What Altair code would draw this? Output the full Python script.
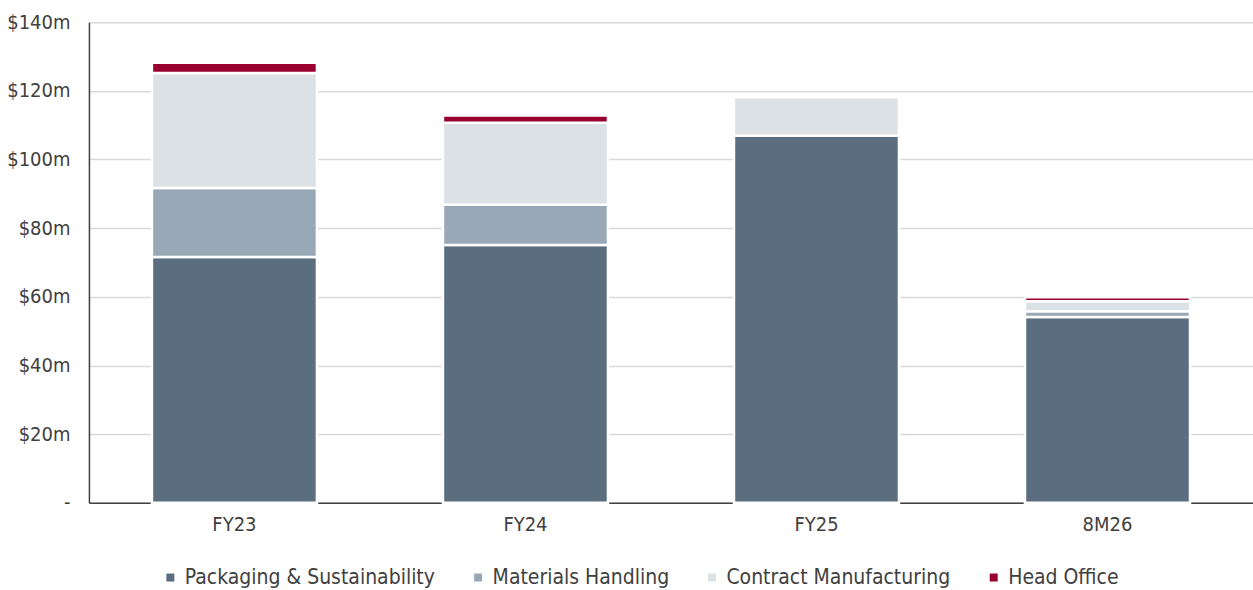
import altair as alt
import pandas as pd

# Revenue by segment, $m
periods = ["FY23", "FY24", "FY25", "8M26"]
segments = ["Packaging & Sustainability", "Materials Handling", "Contract Manufacturing", "Head Office"]
packaging = [71.6, 75.1, 106.9, 54.1]
materials = [20.1, 11.7, 0.0, 1.7]
contract = [33.5, 23.9, 11.3, 2.9]
head_office = [3.0, 2.1, 0.0, 1.2]
colors = ["#5b6e80", "#99a8b6", "#dce1e6", "#990030"]
y_ticks = [0, 20, 40, 60, 80, 100, 120, 140]

rows = []
for i, p in enumerate(periods):
    for j, (seg, vals) in enumerate(zip(segments, [packaging, materials, contract, head_office])):
        rows.append({"period": p, "segment": seg, "value": vals[i], "order": j})
df = pd.DataFrame(rows)

font = "DejaVu Sans Condensed"

chart = alt.Chart(df).mark_bar(stroke="white", strokeWidth=2.5).encode(
    x=alt.X("period:N", sort=periods, title=None,
            scale=alt.Scale(paddingInner=0.433, paddingOuter=0.2165),
            axis=alt.Axis(labelAngle=0, labelFontSize=20, labelColor="#404040",
                          labelPadding=12, ticks=False, domainColor="#404040",
                          domainWidth=1.5, labelFont=font)),
    y=alt.Y("value:Q", stack="zero", title=None,
            scale=alt.Scale(domain=[0, 140], nice=False),
            axis=alt.Axis(values=y_ticks, labelExpr="datum.value == 0 ? '-' : '$' + datum.value + 'm'",
                          labelFontSize=20, labelColor="#404040", labelPadding=19,
                          ticks=False, domainColor="#404040", domainWidth=1.5,
                          gridColor="#d9d9d9", gridWidth=1.5, labelFont=font,
                          labelOverlap=False)),
    color=alt.Color("segment:N", sort=segments,
                    scale=alt.Scale(domain=segments, range=colors),
                    legend=alt.Legend(title=None, orient="none", direction="horizontal",
                                      legendX=71, legendY=481 + 64, symbolType="square",
                                      symbolSize=64, labelFontSize=21, labelColor="#404040",
                                      labelFont=font, columnPadding=32, symbolStrokeWidth=0,
                                      labelOffset=4, labelLimit=500)),
    order=alt.Order("order:Q", sort="ascending"),
).properties(
    width=1165, height=481,
    padding={"left": 89, "top": 22, "right": 0, "bottom": 87},
    autosize=alt.AutoSizeParams(type="none"),
).configure_view(stroke=None)

chart.save("out.html", embed_options={"renderer": "svg", "actions": False})
